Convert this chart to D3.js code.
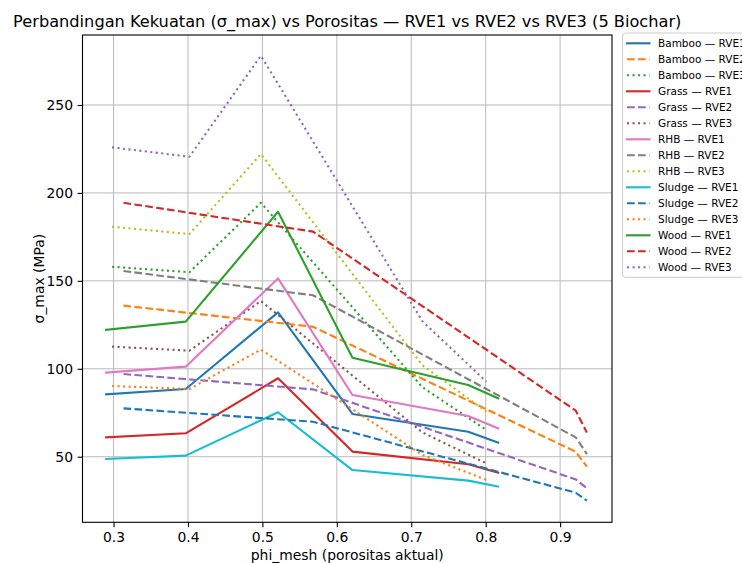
<!DOCTYPE html>
<html>
<head>
<meta charset="utf-8">
<script src="https://cdn.jsdelivr.net/npm/d3@7/dist/d3.min.js"></script>
<style>
  html, body { margin: 0; padding: 0; background: #fff; overflow: hidden; }
  svg { display: block; font-family: "DejaVu Sans", sans-serif; }
</style>
</head>
<body>
<svg id="chart" width="742" height="563"></svg>
<script>
// ---- data -------------------------------------------------------------
const biochars = ["Bamboo", "Grass", "RHB", "Sludge", "Wood"];
const rveNames = ["RVE1", "RVE2", "RVE3"];

// actual mesh porosity at each sampled point, per RVE
const phiRVE1 = [0.290, 0.397, 0.521, 0.621, 0.7765, 0.8168];
const phiRVE2 = [0.3134, 0.568, 0.921, 0.936];
const phiRVE3 = [0.298, 0.402, 0.498, 0.715, 0.801];

// sigma_max (MPa)
const bambooRVE1 = [85.5, 88.5, 132.1, 74.3, 64.2, 58.0];
const bambooRVE2 = [135.9, 123.9, 52.8, 44.3];
const bambooRVE3 = [158.0, 154.9, 194.4, 89.5, 65.2];
const grassRVE1  = [61.0, 63.3, 94.6, 52.9, 45.7, 40.9];
const grassRVE2  = [97.0, 88.3, 37.1, 32.0];
const grassRVE3  = [112.6, 110.3, 138.5, 63.8, 46.2];
const rhbRVE1    = [97.8, 101.2, 151.4, 85.1, 73.1, 66.1];
const rhbRVE2    = [155.6, 141.8, 61.0, 51.5];
const rhbRVE3    = [180.8, 176.6, 222.1, 102.0, 75.6];
const sludgeRVE1 = [48.7, 50.6, 75.3, 42.4, 36.4, 33.0];
const sludgeRVE2 = [77.5, 69.9, 29.5, 25.0];
const sludgeRVE3 = [90.2, 88.5, 110.9, 51.0, 36.8];
const woodRVE1   = [122.2, 126.8, 189.3, 106.3, 90.8, 83.2];
const woodRVE2   = [194.4, 178.0, 76.2, 63.7];
const woodRVE3   = [225.9, 220.6, 278.0, 127.0, 92.65];

const xTicks = [0.3, 0.4, 0.5, 0.6, 0.7, 0.8, 0.9];
const yTicks = [50, 100, 150, 200, 250];

const phiByRve = { RVE1: phiRVE1, RVE2: phiRVE2, RVE3: phiRVE3 };
const sigmaByBiochar = {
  Bamboo: [bambooRVE1, bambooRVE2, bambooRVE3],
  Grass:  [grassRVE1, grassRVE2, grassRVE3],
  RHB:    [rhbRVE1, rhbRVE2, rhbRVE3],
  Sludge: [sludgeRVE1, sludgeRVE2, sludgeRVE3],
  Wood:   [woodRVE1, woodRVE2, woodRVE3]
};

// ---- styling ------------------------------------------------------------
const palette = ["#1f77b4", "#ff7f0e", "#2ca02c", "#d62728", "#9467bd",
                 "#8c564b", "#e377c2", "#7f7f7f", "#bcbd22", "#17becf"];
const dashes = { RVE1: null, RVE2: "7.7,3.3", RVE3: "2.1,3.4" };
const lineW = 2.1;

const series = [];
biochars.forEach(b => {
  rveNames.forEach((r, j) => {
    const phi = phiByRve[r];
    const sig = sigmaByBiochar[b][j];
    series.push({
      label: `${b} — ${r}`,
      rve: r,
      color: palette[series.length % palette.length],
      points: phi.map((p, k) => ({ phi: p, sigma: sig[k] }))
    });
  });
});

// ---- layout -------------------------------------------------------------
const svg = d3.select("#chart");
const plot = { left: 82.5, right: 612, top: 35, bottom: 522.3 };

const x = d3.scaleLinear().domain([0.2583, 0.9697]).range([plot.left, plot.right]);
const y = d3.scaleLinear().domain([12.7, 289.8]).range([plot.bottom, plot.top]);

svg.append("rect").attr("width", 742).attr("height", 563).attr("fill", "#fff");

// grid
const grid = svg.append("g").attr("stroke", "#b0b0b0").attr("stroke-width", 1).attr("opacity", 0.85);
grid.selectAll("line.gx").data(xTicks).join("line")
  .attr("x1", d => x(d)).attr("x2", d => x(d))
  .attr("y1", plot.top).attr("y2", plot.bottom);
grid.selectAll("line.gy").data(yTicks).join("line")
  .attr("x1", plot.left).attr("x2", plot.right)
  .attr("y1", d => y(d)).attr("y2", d => y(d));

// series lines
const line = d3.line().x(d => x(d.phi)).y(d => y(d.sigma));
svg.append("g").selectAll("path").data(series).join("path")
  .attr("d", d => line(d.points))
  .attr("fill", "none")
  .attr("stroke", d => d.color)
  .attr("stroke-width", lineW)
  .attr("stroke-linejoin", "round")
  .attr("stroke-linecap", d => d.rve === "RVE1" ? "square" : "butt")
  .attr("stroke-dasharray", d => dashes[d.rve]);

// axes
const fontTick = 13.9;
const xAxis = svg.append("g").attr("transform", `translate(0,${plot.bottom})`)
  .call(d3.axisBottom(x).tickValues(xTicks).tickFormat(d3.format(".1f")).tickSize(4.9).tickPadding(4.6));
const yAxis = svg.append("g").attr("transform", `translate(${plot.left},0)`)
  .call(d3.axisLeft(y).tickValues(yTicks).tickFormat(d3.format("d")).tickSize(4.9).tickPadding(4.6));
[xAxis, yAxis].forEach(g => {
  g.select(".domain").remove();
  g.selectAll(".tick line").attr("stroke", "#000").attr("stroke-width", 1.1);
  g.selectAll(".tick text").attr("fill", "#000")
    .style("font-family", "'DejaVu Sans', sans-serif").style("font-size", fontTick + "px");
});

// frame
svg.append("rect")
  .attr("x", plot.left).attr("y", plot.top)
  .attr("width", plot.right - plot.left).attr("height", plot.bottom - plot.top)
  .attr("fill", "none").attr("stroke", "#000").attr("stroke-width", 1.1);

// titles
svg.append("text")
  .attr("x", (plot.left + plot.right) / 2).attr("y", 27)
  .attr("text-anchor", "middle").style("font-size", "16.2px")
  .text("Perbandingan Kekuatan (σ_max) vs Porositas — RVE1 vs RVE2 vs RVE3 (5 Biochar)");
svg.append("text")
  .attr("x", (plot.left + plot.right) / 2).attr("y", 560)
  .attr("text-anchor", "middle").style("font-size", fontTick + "px")
  .text("phi_mesh (porositas aktual)");
svg.append("text")
  .attr("transform", `translate(44,${(plot.top + plot.bottom) / 2}) rotate(-90)`)
  .attr("text-anchor", "middle").style("font-size", fontTick + "px")
  .text("σ_max (MPa)");

// legend
const lg = { x: 622.5, top: 33, row0: 43.3, pitch: 16.0, font: 10.5 };
const legend = svg.append("g");
legend.append("rect")
  .attr("x", lg.x).attr("y", lg.top)
  .attr("width", 140).attr("height", lg.row0 + lg.pitch * (series.length - 1) + 10 - lg.top)
  .attr("rx", 3).attr("fill", "#fff").attr("fill-opacity", 0.8)
  .attr("stroke", "#cccccc").attr("stroke-width", 1);
const items = legend.selectAll("g.item").data(series).join("g")
  .attr("transform", (d, i) => `translate(0,${lg.row0 + i * lg.pitch})`);
items.append("line")
  .attr("x1", 627).attr("x2", 649.5).attr("y1", 0).attr("y2", 0)
  .attr("stroke", d => d.color).attr("stroke-width", lineW)
  .attr("stroke-linecap", d => d.rve === "RVE1" ? "square" : "butt")
  .attr("stroke-dasharray", d => dashes[d.rve]);
items.append("text")
  .attr("x", 658).attr("y", 0).attr("dy", "0.36em")
  .style("font-size", lg.font + "px").attr("fill", "#000")
  .text(d => d.label);
</script>
</body>
</html>
